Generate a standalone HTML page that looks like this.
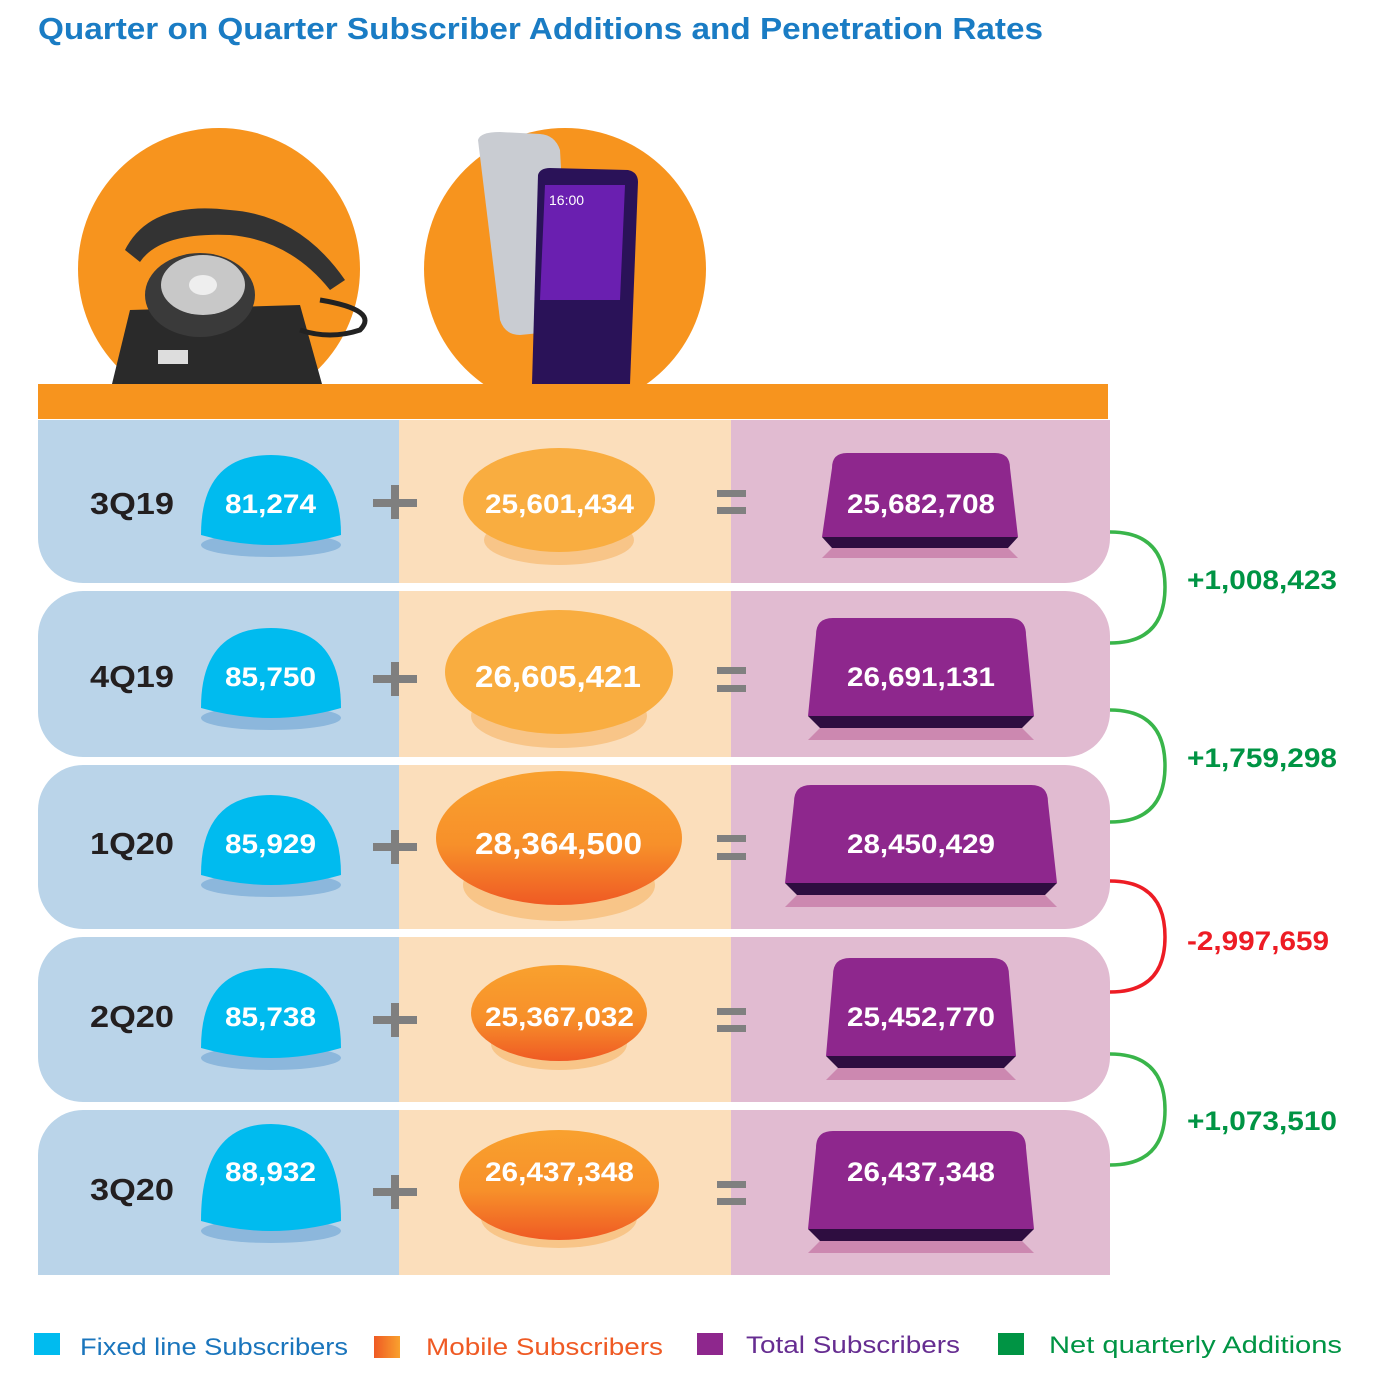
<!DOCTYPE html>
<html><head><meta charset="utf-8"><style>
html,body{margin:0;padding:0;background:#fff;}
svg{display:block;font-family:"Liberation Sans",Arial,sans-serif;}
</style></head><body>
<svg width="1385" height="1397" viewBox="0 0 1385 1397" xmlns="http://www.w3.org/2000/svg">
<defs>
<linearGradient id="og" x1="0" y1="0" x2="0" y2="1"><stop offset="0" stop-color="#f9a12e"/><stop offset="0.55" stop-color="#f7902a"/><stop offset="1" stop-color="#ef5a24"/></linearGradient>
<linearGradient id="lg" x1="0" y1="0" x2="1" y2="0"><stop offset="0" stop-color="#ef5a24"/><stop offset="1" stop-color="#f9a12e"/></linearGradient>
<clipPath id="top"><rect x="0" y="0" width="1385" height="384"/></clipPath>
</defs>
<text x="38" y="39" font-size="31" font-weight="bold" fill="#1a7cc4" textLength="1005" lengthAdjust="spacingAndGlyphs">Quarter on Quarter Subscriber Additions and Penetration Rates</text>

<g clip-path="url(#top)">
<circle cx="219" cy="269" r="141" fill="#f7941e"/>
<circle cx="565" cy="269" r="141" fill="#f7941e"/>
<path d="M112 384 L130 310 L300 305 L322 384 Z" fill="#2a2a2a"/>
<ellipse cx="200" cy="295" rx="55" ry="42" fill="#3a3a3a"/>
<ellipse cx="203" cy="285" rx="42" ry="30" fill="#c8c8c8"/>
<ellipse cx="203" cy="285" rx="14" ry="10" fill="#eee"/>
<path d="M125 250 Q150 200 230 210 Q300 215 345 280 L330 290 Q290 240 230 235 Q160 232 140 262 Z" fill="#333"/>
<rect x="158" y="350" width="30" height="14" fill="#ddd"/>
<path d="M320 300 Q380 310 360 330 Q330 340 300 330" fill="none" stroke="#222" stroke-width="5"/>
<path d="M478 140 Q480 132 500 132 L540 134 Q555 135 560 150 L570 330 L520 335 Q505 335 500 320 Z" fill="#c9ccd2"/>
<path d="M538 175 Q540 168 550 168 L628 170 Q638 172 638 182 L630 384 L532 384 Z" fill="#2a1258"/>
<path d="M545 185 L625 185 L620 300 L540 300 Z" fill="#6a1fb0"/>
<text x="549" y="205" font-size="14" fill="#fff">16:00</text>
</g>
<rect x="38" y="384" width="1070" height="35" fill="#f7941e"/>

<g>
<rect x="38" y="420" width="700" height="163" rx="45" fill="#bad4e9"/><rect x="38" y="420" width="361" height="60" fill="#bad4e9"/>
<rect x="600" y="420" width="510" height="163" rx="45" fill="#e1bbd1"/><rect x="700" y="420" width="410" height="60" fill="#e1bbd1"/>
<rect x="399" y="420" width="332" height="163" fill="#fbdebb"/>
<rect x="38" y="591" width="700" height="166" rx="45" fill="#bad4e9"/>
<rect x="600" y="591" width="510" height="166" rx="45" fill="#e1bbd1"/>
<rect x="399" y="591" width="332" height="166" fill="#fbdebb"/>
<rect x="38" y="765" width="700" height="164" rx="45" fill="#bad4e9"/>
<rect x="600" y="765" width="510" height="164" rx="45" fill="#e1bbd1"/>
<rect x="399" y="765" width="332" height="164" fill="#fbdebb"/>
<rect x="38" y="937" width="700" height="165" rx="45" fill="#bad4e9"/>
<rect x="600" y="937" width="510" height="165" rx="45" fill="#e1bbd1"/>
<rect x="399" y="937" width="332" height="165" fill="#fbdebb"/>
<rect x="38" y="1110" width="700" height="165" rx="45" fill="#bad4e9"/><rect x="38" y="1215" width="361" height="60" fill="#bad4e9"/>
<rect x="600" y="1110" width="510" height="165" rx="45" fill="#e1bbd1"/><rect x="700" y="1215" width="410" height="60" fill="#e1bbd1"/>
<rect x="399" y="1110" width="332" height="165" fill="#fbdebb"/>
</g>

<g font-size="31" font-weight="bold" fill="#231f20">
<text x="90" y="514" textLength="84" lengthAdjust="spacingAndGlyphs">3Q19</text>
<text x="90" y="687" textLength="84" lengthAdjust="spacingAndGlyphs">4Q19</text>
<text x="90" y="854" textLength="84" lengthAdjust="spacingAndGlyphs">1Q20</text>
<text x="90" y="1027" textLength="84" lengthAdjust="spacingAndGlyphs">2Q20</text>
<text x="90" y="1200" textLength="84" lengthAdjust="spacingAndGlyphs">3Q20</text>
</g>

<g>
<ellipse cx="271" cy="545" rx="70" ry="12" fill="#8cb7dc"/>
<path d="M201 535 Q201 455 271 455 Q341 455 341 535 Q271 555 201 535Z" fill="#00bbef"/>
<ellipse cx="271" cy="718" rx="70" ry="12" fill="#8cb7dc"/>
<path d="M201 708 Q201 628 271 628 Q341 628 341 708 Q271 728 201 708Z" fill="#00bbef"/>
<ellipse cx="271" cy="885" rx="70" ry="12" fill="#8cb7dc"/>
<path d="M201 875 Q201 795 271 795 Q341 795 341 875 Q271 895 201 875Z" fill="#00bbef"/>
<ellipse cx="271" cy="1058" rx="70" ry="12" fill="#8cb7dc"/>
<path d="M201 1048 Q201 968 271 968 Q341 968 341 1048 Q271 1068 201 1048Z" fill="#00bbef"/>
<ellipse cx="271" cy="1231" rx="70" ry="12" fill="#8cb7dc"/>
<path d="M201 1221 Q201 1124 271 1124 Q341 1124 341 1221 Q271 1241 201 1221Z" fill="#00bbef"/>
</g>
<g font-size="27" font-weight="bold" fill="#fff">
<text x="225" y="513" textLength="91" lengthAdjust="spacingAndGlyphs">81,274</text>
<text x="225" y="686" textLength="91" lengthAdjust="spacingAndGlyphs">85,750</text>
<text x="225" y="853" textLength="91" lengthAdjust="spacingAndGlyphs">85,929</text>
<text x="225" y="1026" textLength="91" lengthAdjust="spacingAndGlyphs">85,738</text>
<text x="225" y="1181" textLength="91" lengthAdjust="spacingAndGlyphs">88,932</text>
</g>

<g fill="#7f7f7f">
<rect x="373" y="499" width="44" height="8"/><rect x="391" y="485" width="8" height="34"/>
<rect x="373" y="675" width="44" height="8"/><rect x="391" y="662" width="8" height="34"/>
<rect x="373" y="843" width="44" height="8"/><rect x="391" y="830" width="8" height="34"/>
<rect x="373" y="1016" width="44" height="8"/><rect x="391" y="1003" width="8" height="34"/>
<rect x="373" y="1188" width="44" height="8"/><rect x="391" y="1175" width="8" height="34"/>
</g>
<g fill="#808080">
<rect x="717" y="490" width="29" height="7"/><rect x="717" y="507" width="29" height="7"/>
<rect x="717" y="667" width="29" height="7"/><rect x="717" y="685" width="29" height="7"/>
<rect x="717" y="835" width="29" height="7"/><rect x="717" y="853" width="29" height="7"/>
<rect x="717" y="1008" width="29" height="7"/><rect x="717" y="1025" width="29" height="7"/>
<rect x="717" y="1181" width="29" height="7"/><rect x="717" y="1198" width="29" height="7"/>
</g>

<g>
<ellipse cx="559" cy="540" rx="75" ry="25" fill="#f8c588"/>
<ellipse cx="559" cy="500" rx="96" ry="52" fill="#f9ad40"/>
<ellipse cx="559" cy="716" rx="88" ry="32" fill="#f8c588"/>
<ellipse cx="559" cy="672" rx="114" ry="62" fill="#f9ad40"/>
<ellipse cx="559" cy="885" rx="96" ry="36" fill="#f8c588"/>
<ellipse cx="559" cy="838" rx="123" ry="67" fill="url(#og)"/>
<ellipse cx="559" cy="1044" rx="68" ry="26" fill="#f8c588"/>
<ellipse cx="559" cy="1013" rx="88" ry="48" fill="url(#og)"/>
<ellipse cx="559" cy="1218" rx="78" ry="30" fill="#f8c588"/>
<ellipse cx="559" cy="1185" rx="100" ry="55" fill="url(#og)"/>
</g>
<g font-size="27" font-weight="bold" fill="#fff">
<text x="485" y="513" textLength="149" lengthAdjust="spacingAndGlyphs">25,601,434</text>
<text x="475" y="687" font-size="31" textLength="166" lengthAdjust="spacingAndGlyphs">26,605,421</text>
<text x="475" y="854" font-size="31" textLength="167" lengthAdjust="spacingAndGlyphs">28,364,500</text>
<text x="485" y="1026" textLength="149" lengthAdjust="spacingAndGlyphs">25,367,032</text>
<text x="485" y="1181" textLength="149" lengthAdjust="spacingAndGlyphs">26,437,348</text>
</g>

<g>
<path d="M822 558 L832 548 L1008 548 L1018 558Z" fill="#cc88b0"/>
<path d="M822 537 L1018 537 L1008 548 L832 548Z" fill="#2e0d40"/>
<path d="M832 468 Q832 453 847 453 L995 453 Q1010 453 1010 468 L1018 537 L822 537Z" fill="#8e278d"/>
<path d="M808 740 L820 728 L1022 728 L1034 740Z" fill="#cc88b0"/>
<path d="M808 716 L1034 716 L1022 728 L820 728Z" fill="#2e0d40"/>
<path d="M816 635 Q816 618 833 618 L1009 618 Q1026 618 1026 635 L1034 716 L808 716Z" fill="#8e278d"/>
<path d="M785 907 L797 895 L1045 895 L1057 907Z" fill="#cc88b0"/>
<path d="M785 883 L1057 883 L1045 895 L797 895Z" fill="#2e0d40"/>
<path d="M794 802 Q794 785 811 785 L1031 785 Q1048 785 1048 802 L1057 883 L785 883Z" fill="#8e278d"/>
<path d="M826 1080 L838 1068 L1004 1068 L1016 1080Z" fill="#cc88b0"/>
<path d="M826 1056 L1016 1056 L1004 1068 L838 1068Z" fill="#2e0d40"/>
<path d="M833 975 Q833 958 850 958 L992 958 Q1009 958 1009 975 L1016 1056 L826 1056Z" fill="#8e278d"/>
<path d="M808 1253 L820 1241 L1022 1241 L1034 1253Z" fill="#cc88b0"/>
<path d="M808 1229 L1034 1229 L1022 1241 L820 1241Z" fill="#2e0d40"/>
<path d="M816 1148 Q816 1131 833 1131 L1009 1131 Q1026 1131 1026 1148 L1034 1229 L808 1229Z" fill="#8e278d"/>
</g>
<g font-size="27" font-weight="bold" fill="#fff">
<text x="847" y="513" textLength="148" lengthAdjust="spacingAndGlyphs">25,682,708</text>
<text x="847" y="686" textLength="148" lengthAdjust="spacingAndGlyphs">26,691,131</text>
<text x="847" y="853" textLength="148" lengthAdjust="spacingAndGlyphs">28,450,429</text>
<text x="847" y="1026" textLength="148" lengthAdjust="spacingAndGlyphs">25,452,770</text>
<text x="847" y="1181" textLength="148" lengthAdjust="spacingAndGlyphs">26,437,348</text>
</g>

<g fill="none" stroke-width="3.5">
<path d="M1110 532 Q1165 532 1165 587 Q1165 643 1110 643" stroke="#39b54a"/>
<path d="M1110 710 Q1165 710 1165 766 Q1165 822 1110 822" stroke="#39b54a"/>
<path d="M1110 881 Q1165 881 1165 937 Q1165 992 1110 992" stroke="#ed1c24"/>
<path d="M1110 1054 Q1165 1054 1165 1110 Q1165 1165 1110 1165" stroke="#39b54a"/>
</g>
<g font-size="27" font-weight="bold">
<text x="1187" y="589" fill="#009444" textLength="150" lengthAdjust="spacingAndGlyphs">+1,008,423</text>
<text x="1187" y="767" fill="#009444" textLength="150" lengthAdjust="spacingAndGlyphs">+1,759,298</text>
<text x="1187" y="950" fill="#ed1c24" textLength="142" lengthAdjust="spacingAndGlyphs">-2,997,659</text>
<text x="1187" y="1130" fill="#009444" textLength="150" lengthAdjust="spacingAndGlyphs">+1,073,510</text>
</g>

<rect x="34" y="1333" width="26" height="22" fill="#00bbef"/>
<text x="80" y="1355" font-size="24" fill="#1a75bc" textLength="268" lengthAdjust="spacingAndGlyphs">Fixed line Subscribers</text>
<rect x="374" y="1336" width="26" height="22" fill="url(#lg)"/>
<text x="426" y="1355" font-size="24" fill="#ef5a24" textLength="237" lengthAdjust="spacingAndGlyphs">Mobile Subscribers</text>
<rect x="697" y="1333" width="26" height="22" fill="#8e278d"/>
<text x="746" y="1353" font-size="24" fill="#662d91" textLength="214" lengthAdjust="spacingAndGlyphs">Total Subscribers</text>
<rect x="998" y="1333" width="26" height="22" fill="#009444"/>
<text x="1049" y="1353" font-size="24" fill="#009444" textLength="293" lengthAdjust="spacingAndGlyphs">Net quarterly Additions</text>
</svg>
</body></html>
